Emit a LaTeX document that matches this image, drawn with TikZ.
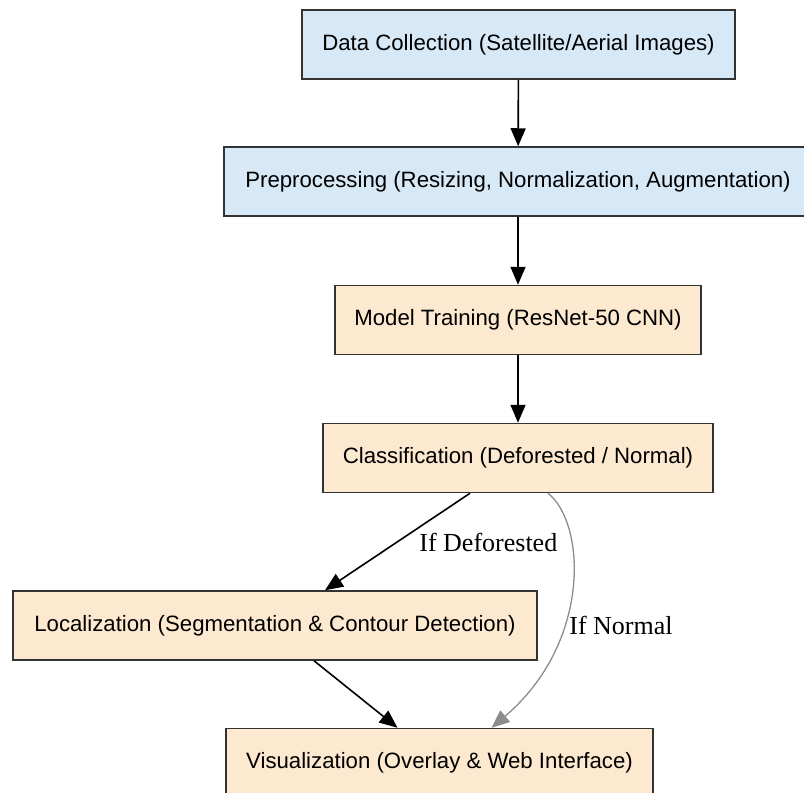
\documentclass[tikz,border=0pt]{standalone}
\usepackage{fontspec}
\setmainfont{Liberation Serif}
\setsansfont{Liberation Sans}
\usetikzlibrary{arrows.meta}
\definecolor{inputblue}{RGB}{215,233,246}
\definecolor{stageorange}{RGB}{252,233,207}
\definecolor{boxline}{RGB}{51,51,51}
\definecolor{normalgray}{RGB}{140,140,140}
\begin{document}
\begin{tikzpicture}[x=0.5pt, y=-0.5pt,
	stage/.style={draw=boxline, line width=0.75pt, inner sep=0pt, minimum height=34.5pt,
		font=\sffamily\fontsize{11.1}{13}\selectfont},
	inbox/.style={stage, fill=inputblue},
	workbox/.style={stage, fill=stageorange},
	flow/.style={-{Triangle[length=9pt, width=7.5pt]}, line width=0.8pt},
	cond/.style={font=\fontsize{13}{15}\selectfont, inner sep=0pt, anchor=west}]
	\useasboundingbox (0,0) rectangle (804,793);
		\node[inbox, minimum width=216.5pt] (collect) at (518.5,44.5) {Data Collection (Satellite/Aerial Images)} ;
		\node[inbox, minimum width=294pt] (prep) at (518,181.5) {Preprocessing (Resizing, Normalization, Augmentation)} ;
		\node[workbox, minimum width=183pt] (train) at (518,320) {Model Training (ResNet-50 CNN)} ;
		\node[workbox, minimum width=195pt] (classify) at (518,458) {Classification (Deforested / Normal)} ;
		\node[workbox, minimum width=262pt] (locate) at (275,625.5) {Localization (Segmentation \& Contour Detection)} ;
		\node[workbox, minimum width=213.5pt] (visual) at (439.5,763) {Visualization (Overlay \& Web Interface)} ;
		\node[cond] (yesdef) at (419,542) {If Deforested} ;
		\node[cond] (nodef) at (569,625) {If Normal} ;
		\draw[flow] (collect) -- (prep);
		\draw[flow] (prep) -- (train);
		\draw[flow] (train) -- (classify);
		\draw[flow] ([xshift=-24pt]classify.south) -- ([xshift=25pt]locate.north);
		\draw[flow] ([xshift=19.5pt]locate.south) -- ([xshift=-21pt]visual.north);
		\draw[flow, draw=normalgray, line width=0.65pt] ([xshift=15pt]classify.south)
			.. controls +(38,30) and +(100,-85) .. ([xshift=26pt]visual.north);
\end{tikzpicture}
\end{document}
